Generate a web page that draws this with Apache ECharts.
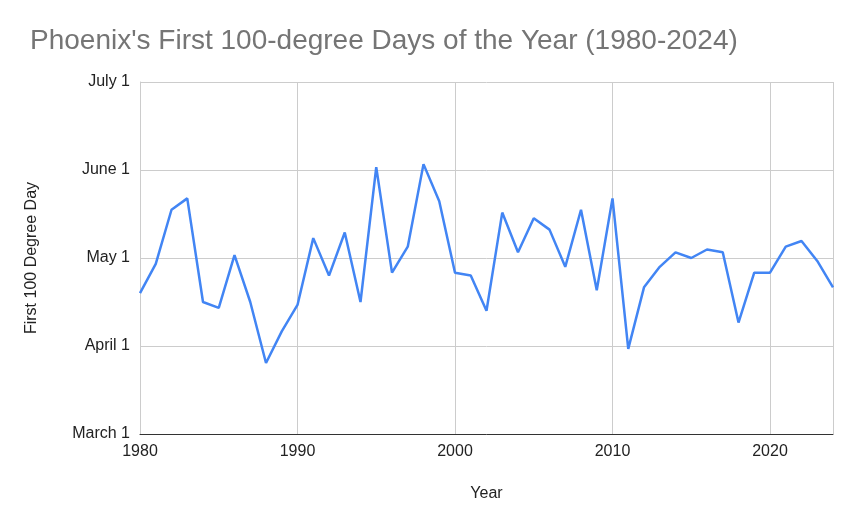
<!DOCTYPE html>
<html lang="en">
<head>
    <meta charset="UTF-8">
    <title>Phoenix first 100-degree days</title>
    <script src="https://cdn.jsdelivr.net/npm/echarts@6/dist/echarts.min.js"></script>
    <style>
        *{margin:0;padding:0;}
        html,body{width:100%;height:100%;background:#fff;}
        .main{width:860px;height:532px;}
    </style>
</head>
<body>
<div class="main"></div>
<script>
    // first 100-degree day per year, MM-DD
    let years = [];
    for (let y = 1980; y <= 2024; y++) years.push(y);
    let dates = ['04-19','04-29','05-18','05-22','04-16','04-14','05-02','04-16','03-26','04-06',
                 '04-15','05-08','04-25','05-10','04-16','06-02','04-26','05-05','06-03','05-21',
                 '04-26','04-25','04-13','05-17','05-03','05-15','05-11','04-28','05-18','04-20',
                 '05-22','03-31','04-21','04-28','05-03','05-01','05-04','05-03','04-09','04-26',
                 '04-26','05-05','05-07','04-30','04-21'];
    let monthLabels = ['March 1', 'April 1', 'May 1', 'June 1', 'July 1'];
    let monthDays = [31, 30, 31, 30];

    // month position: 0 = March 1, 1 = April 1, ...
    function toPos(s) {
        let m = parseInt(s.slice(0, 2)) - 3;
        let d = parseInt(s.slice(3));
        return m + (d - 1) / monthDays[m];
    }

    let main = echarts.init(document.getElementsByClassName('main')[0]);
    let font = 'Arial, "Liberation Sans", sans-serif';
    let option = {
        title: {
            text: "Phoenix's First 100-degree Days of the Year (1980-2024)",
            left: 25, top: 22,
            textStyle: {fontFamily: font, fontSize: 28, fontWeight: 'normal', color: '#757575'}
        },
        grid: {left: 140, right: 27, top: 82, bottom: 98},
        xAxis: {
            type: 'value', min: 1980, max: 2024, interval: 10,
            name: 'Year', nameLocation: 'middle', nameGap: 52,
            nameTextStyle: {fontFamily: font, fontSize: 16, color: '#222'},
            axisLine: {lineStyle: {color: '#333'}},
            axisTick: {show: false},
            axisLabel: {fontFamily: font, fontSize: 16, color: '#222', margin: 10,
                showMaxLabel: false, formatter: v => String(v)},
            splitLine: {lineStyle: {color: '#cccccc', width: 1}}
        },
        yAxis: {
            type: 'value', min: 0, max: 4, interval: 1,
            name: 'First 100 Degree Day', nameLocation: 'middle', nameGap: 100,
            nameTextStyle: {fontFamily: font, fontSize: 16, color: '#222'},
            axisLine: {show: true, lineStyle: {color: '#cccccc'}},
            axisTick: {show: false},
            axisLabel: {
                fontFamily: font, fontSize: 16, color: '#222', margin: 10,
                formatter: v => monthLabels[v]
            },
            splitLine: {lineStyle: {color: '#cccccc', width: 1}}
        },
        series: [{
            type: 'line',
            data: years.map((y, i) => [y, toPos(dates[i])]),
            showSymbol: false,
            lineStyle: {color: '#4285F4', width: 2.5},
            itemStyle: {color: '#4285F4'}
        }]
    };
    main.setOption(option);
</script>
</body>
</html>
